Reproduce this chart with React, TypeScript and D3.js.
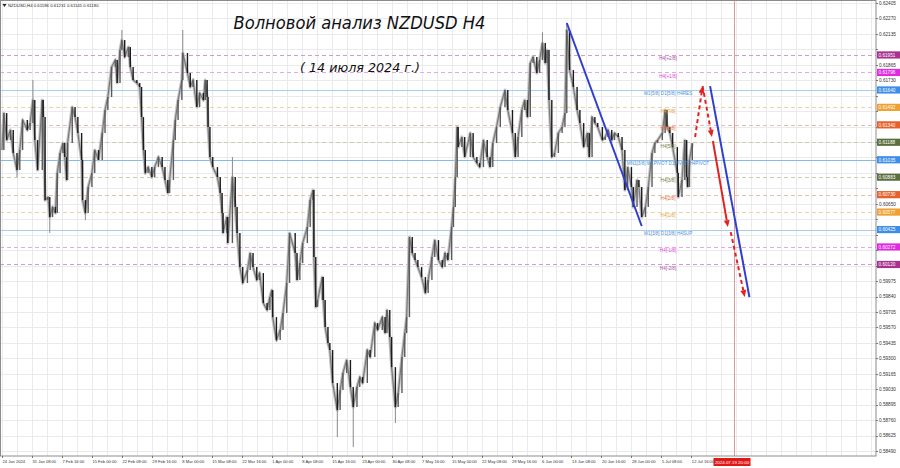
import React from "react";
import * as d3 from "d3";

const W = 900;
const H = 468;
const PLOT_R = 876;
const PLOT_B = 456;

const symbolHeader = "NZDUSD,H4  0.61186 0.61231 0.61145 0.61180";
const titleText = "Волновой анализ NZDUSD H4";
const subtitleText = "( 14 июля 2024 г.)";

const priceLabels = [
  "0.62405", "0.62270", "0.62135", "0.62000", "0.61865", "0.61730", "0.61595", "0.61460",
  "0.61325", "0.61190", "0.61055", "0.60920", "0.60785", "0.60650", "0.60515", "0.60380",
  "0.60245", "0.60110", "0.59975", "0.59840", "0.59705", "0.59570", "0.59435", "0.59300",
  "0.59165", "0.59030", "0.58895", "0.58760", "0.58625", "0.58490",
];

const timeLabels = [
  "24 Jan 2024", "31 Jan 08:00", "7 Feb 16:00", "15 Feb 00:00", "22 Feb 08:00", "29 Feb 16:00",
  "8 Mar 00:00", "15 Mar 08:00", "22 Mar 16:00", "1 Apr 00:00", "8 Apr 08:00", "15 Apr 16:00",
  "23 Apr 00:00", "30 Apr 08:00", "7 May 16:00", "15 May 00:00", "22 May 08:00", "29 May 16:00",
  "6 Jun 00:00", "13 Jun 08:00", "20 Jun 16:00", "28 Jun 00:00", "5 Jul 08:00", "12 Jul 16:00",
];
const barsPerLabel = 32;

// [bar index, close]
const closeSeries: [number, number][] = [
  [0, 0.6112], [2, 0.61443], [5, 0.61207], [9, 0.61295], [12, 0.61094], [16, 0.60945], [19, 0.6112],
  [22, 0.61382], [27, 0.61295], [30, 0.61356], [33, 0.61557], [35, 0.61207], [38, 0.60945], [43, 0.61557],
  [44, 0.61408], [46, 0.60683], [49, 0.60709], [51, 0.60534], [54, 0.60622], [57, 0.60569], [59, 0.60919],
  [62, 0.61094], [65, 0.61181], [67, 0.61059], [69, 0.60858], [70, 0.61181], [75, 0.61496], [78, 0.61408],
  [81, 0.61269], [85, 0.61033], [86, 0.60683], [89, 0.60569], [92, 0.60797], [96, 0.60919], [99, 0.6112],
  [103, 0.61033], [107, 0.61269], [110, 0.6147], [113, 0.61583], [117, 0.61845], [121, 0.61907], [123, 0.61706],
  [126, 0.61994], [128, 0.62081], [131, 0.61933], [135, 0.6202], [137, 0.61845], [140, 0.61732], [144, 0.61706],
  [147, 0.61671], [149, 0.61408], [151, 0.6112], [153, 0.60919], [156, 0.60971], [160, 0.60884], [163, 0.60971],
  [167, 0.61059], [171, 0.60971], [174, 0.60858], [177, 0.60744], [179, 0.60858], [183, 0.61207], [185, 0.61382],
  [188, 0.61557], [192, 0.61732], [193, 0.61968], [198, 0.61793], [201, 0.61671], [204, 0.61732], [208, 0.61496],
  [211, 0.61618], [215, 0.61557], [217, 0.61732], [219, 0.61583], [220, 0.61321], [222, 0.61059], [225, 0.60971],
  [230, 0.60884], [233, 0.60744], [235, 0.60569], [236, 0.60395], [240, 0.60534], [241, 0.60307], [246, 0.60884],
  [249, 0.60622], [251, 0.60395], [254, 0.60097], [257, 0.59958], [262, 0.60071], [265, 0.6022], [268, 0.60097],
  [272, 0.59984], [275, 0.60045], [279, 0.59783], [283, 0.59722], [286, 0.59835], [288, 0.59896], [289, 0.5966],
  [293, 0.59459], [297, 0.59547], [300, 0.59695], [304, 0.59958], [307, 0.60395], [313, 0.6022], [315, 0.59984],
  [318, 0.60132], [321, 0.60307], [326, 0.60447], [329, 0.60683], [332, 0.6077], [333, 0.60185], [335, 0.59748],
  [337, 0.59809], [342, 0.6001], [343, 0.59809], [345, 0.59573], [348, 0.59433], [350, 0.59372], [353, 0.59084],
  [358, 0.58848], [361, 0.59022], [364, 0.59171], [368, 0.59285], [372, 0.59049], [375, 0.58874], [379, 0.59049],
  [382, 0.59136], [385, 0.59084], [390, 0.59372], [393, 0.59311], [398, 0.59608], [401, 0.59547], [406, 0.5966],
  [409, 0.59521], [411, 0.59722], [414, 0.59486], [416, 0.59223], [420, 0.58874], [423, 0.58996], [427, 0.59311],
  [430, 0.59521], [432, 0.5966], [435, 0.6036], [438, 0.6022], [441, 0.60159], [444, 0.60097], [448, 0.6001],
  [452, 0.5987], [455, 0.59984], [459, 0.60185], [462, 0.60333], [466, 0.60159], [470, 0.60097], [473, 0.6022],
  [476, 0.60159], [480, 0.60447], [482, 0.60622], [484, 0.60884], [486, 0.61321], [487, 0.61146], [491, 0.61234],
  [494, 0.61059], [500, 0.61269], [503, 0.61059], [507, 0.61006], [510, 0.60971], [514, 0.61207], [518, 0.61059],
  [521, 0.60971], [524, 0.61181], [528, 0.61321], [532, 0.61496], [537, 0.61644], [540, 0.6147], [545, 0.61269],
  [548, 0.61059], [551, 0.61234], [555, 0.6147], [558, 0.61557], [561, 0.61408], [564, 0.6188], [567, 0.61933],
  [571, 0.61793], [574, 0.61907], [577, 0.62055], [580, 0.6188], [582, 0.61994], [584, 0.61557], [587, 0.61059],
  [590, 0.61094], [594, 0.61269], [598, 0.61321], [601, 0.61443], [603, 0.62169], [606, 0.61819], [610, 0.61671],
  [614, 0.6147], [617, 0.61356], [621, 0.61146], [625, 0.61269], [627, 0.61059], [630, 0.61408], [633, 0.61356],
  [636, 0.61321], [641, 0.61207], [644, 0.61234], [647, 0.61295], [651, 0.61207], [654, 0.61269], [658, 0.61234],
  [662, 0.6112], [665, 0.6077], [668, 0.60971], [672, 0.60797], [674, 0.60622], [678, 0.60858], [680, 0.60797],
  [683, 0.60534], [687, 0.60622], [690, 0.60797], [694, 0.61094], [697, 0.61181], [700, 0.61207], [705, 0.61269],
  [708, 0.6147], [710, 0.61321], [713, 0.61269], [716, 0.61146], [721, 0.60919], [722, 0.60709], [726, 0.60858],
  [729, 0.61207], [731, 0.60884], [732, 0.60797], [734, 0.61033], [737, 0.6118],
];

// [bar index, wick extreme]
const wickExtremes: [number, number][] = [
  [16, 0.60884], [33, 0.61732], [51, 0.60395], [89, 0.60508], [128, 0.62169], [193, 0.62169],
  [246, 0.61059], [358, 0.58612], [375, 0.58524], [420, 0.58734], [577, 0.6215], [603, 0.6223],
];

const levelPrices = [0.61951, 0.61798, 0.61645, 0.61493, 0.6134, 0.61188, 0.61035, 0.60883, 0.6073, 0.60578, 0.60425, 0.60273, 0.6012];
const levelValueTexts = ["0.61951", "0.61796", "0.61640", "0.61492", "0.61340", "0.61188", "0.61035", "0.60883", "0.60730", "0.60577", "0.60425", "0.60272", "0.60120"];
const levelNames = [
  "H4[+2/8]", "H4[+1/8]", "W1[5/8] D1[5/8] H4RES", "H4[7/8]", "H4[6/8]", "H4[5/8]",
  "MN1[3/8] W1PIVOT D1PIVOT H4PIVOT", "H4[3/8]", "H4[2/8]", "H4[1/8]", "W1[3/8] D1[3/8] H4SUP", "H4[-1/8]", "H4[-2/8]",
];
const levelKinds = ["p2", "p1", "res", "o7", "o6", "g5", "piv", "g5", "o6", "o7", "res", "p1", "p2"];

const kindStyle: Record<string, { line: string; text: string; box: string; solid: boolean }> = {
  p2: { line: "#cf9ccb", text: "#a8489e", box: "#a8328f", solid: false },
  p1: { line: "#e8a6e8", text: "#de3ede", box: "#e02ae0", solid: false },
  res: { line: "#a9cdef", text: "#4a90d8", box: "#3d8ee8", solid: true },
  o7: { line: "#ecd3a4", text: "#e3a132", box: "#f0a030", solid: false },
  o6: { line: "#ebbcaa", text: "#e26a32", box: "#e6602c", solid: false },
  g5: { line: "#cccbae", text: "#6c7a44", box: "#5c6e3e", solid: false },
  piv: { line: "#86b9ec", text: "#4a90d8", box: "#3d8ee8", solid: true },
};

// wave annotation: [bar, price]
const waveLineA: [number, number][] = [[603, 0.6223], [683, 0.60456]];
const waveLineB: [number, number][] = [[756, 0.61679], [798, 0.59835]];
const arrowsDashed: [number, number][][] = [
  [[740, 0.61234], [748, 0.61679]],
  [[748, 0.61679], [758, 0.61234]],
  [[778, 0.60403], [793, 0.59835]],
];
const arrowsSolid: [number, number][][] = [[[759, 0.61199], [775, 0.60447]]];
const markerBar = 781;
const markerText = "2024.07.19 20:00";

export default function App() {
  const x = d3.scaleLinear().domain([0, 737]).range([2, 692.3]);
  const y = d3.scaleLinear().domain([0.5849, 0.62405]).range([451, 3]);

  const hGrid = priceLabels.map((p) => y(+p));
  const vGrid = d3.range(0, 60).map((i) => x(i * (barsPerLabel / 2))).filter((v) => v < PLOT_R);

  const line = d3.line<[number, number]>().x((d) => x(d[0])).y((d) => y(d[1]));

  const redArrow = (pts: [number, number][], dashed: boolean, key: string) => {
    const [a, b] = pts;
    const x1 = x(a[0]), y1 = y(a[1]), x2 = x(b[0]), y2 = y(b[1]);
    const ang = Math.atan2(y2 - y1, x2 - x1);
    const L = 7, Wd = 3;
    const bx = x2 - L * Math.cos(ang), by = y2 - L * Math.sin(ang);
    const p1 = [bx + Wd * Math.sin(ang), by - Wd * Math.cos(ang)];
    const p2 = [bx - Wd * Math.sin(ang), by + Wd * Math.cos(ang)];
    return (
      <g key={key}>
        <line x1={x1} y1={y1} x2={bx} y2={by} stroke="#e32222" strokeWidth={2} strokeDasharray={dashed ? "4,3" : undefined} />
        <path d={`M${x2},${y2}L${p1[0]},${p1[1]}L${p2[0]},${p2[1]}Z`} fill="#e32222" />
      </g>
    );
  };

  const closeAt = (bar: number) => {
    let best = closeSeries[0];
    for (const d of closeSeries) if (Math.abs(d[0] - bar) < Math.abs(best[0] - bar)) best = d;
    return best[1];
  };

  const labelX = 668;
  const boxYs = levelPrices.map((p) => y(p));
  const visiblePriceLabels = priceLabels.filter((p) => boxYs.every((by) => Math.abs(by - y(+p)) > 7.5));

  return (
    <svg width={W} height={H} style={{ position: "fixed", left: 0, top: 0, background: "#fff" }} fontFamily="Liberation Sans, Arial, sans-serif">
      <rect x={0} y={0} width={W} height={H} fill="#fff" />
      {/* grid */}
      <g stroke="#e9e9ee" strokeWidth={1}>
        {hGrid.map((gy, i) => (
          <line key={"h" + i} x1={0} x2={PLOT_R} y1={Math.round(gy) + 0.5} y2={Math.round(gy) + 0.5} />
        ))}
        {vGrid.map((gx, i) => (
          <line key={"v" + i} x1={Math.round(gx) + 0.5} x2={Math.round(gx) + 0.5} y1={0} y2={PLOT_B} />
        ))}
      </g>
      {/* level lines */}
      {levelPrices.map((p, i) => {
        const st = kindStyle[levelKinds[i]];
        const ly = Math.round(y(p)) + 0.5;
        return (
          <line key={"lv" + i} x1={0} x2={PLOT_R} y1={ly} y2={ly} stroke={st.line} strokeWidth={1} strokeDasharray={st.solid ? undefined : "4,3"} />
        );
      })}
      {/* marker vertical */}
      <line x1={Math.round(x(markerBar)) + 0.5} x2={Math.round(x(markerBar)) + 0.5} y1={0} y2={PLOT_B} stroke="#d99a9a" strokeWidth={1} />
      {/* price series */}
      <path d={line(closeSeries) || ""} fill="none" stroke="#c4c4c4" strokeWidth={3.2} strokeLinejoin="round" />
      <path d={line(closeSeries) || ""} fill="none" stroke="#7a7a7a" strokeWidth={1.2} />
      {wickExtremes.map((d, i) => (
        <line key={"w" + i} x1={x(d[0])} x2={x(d[0])} y1={y(closeAt(d[0]))} y2={y(d[1])} stroke="#8a8a8a" strokeWidth={1} />
      ))}
      {closeSeries.map((d, i) => {
        if (i === 0) return null;
        const o = closeSeries[i - 1][1];
        const c = d[1];
        const up = c >= o;
        const xx = x(d[0]);
        return (
          <line key={"c" + i} x1={xx} x2={xx} y1={y(o)} y2={y(c)} stroke={up ? "#5a5a5a" : "#1a1a1a"} strokeWidth={1.4} />
        );
      })}
      {/* level texts */}
      {levelPrices.map((p, i) => {
        const st = kindStyle[levelKinds[i]];
        return (
          <text key={"lt" + i} x={labelX} y={y(p) + 5.3} fontSize={4.6} fill={st.text} textAnchor="middle">
            {levelNames[i]}
          </text>
        );
      })}
      {/* wave lines */}
      <path d={line(waveLineA) || ""} stroke="#2f3fcf" strokeWidth={2} fill="none" />
      <path d={line(waveLineB) || ""} stroke="#2f3fcf" strokeWidth={2} fill="none" />
      {arrowsDashed.map((a, i) => redArrow(a, true, "ad" + i))}
      {arrowsSolid.map((a, i) => redArrow(a, false, "as" + i))}
      {/* title */}
      <text x={359.5} y={29} fontSize={17} fontStyle="italic" fontFamily="DejaVu Sans" fill="#111" textAnchor="middle" textLength={252} lengthAdjust="spacingAndGlyphs">
        {titleText}
      </text>
      <text x={360} y={72} fontSize={11.5} fontStyle="italic" fontFamily="DejaVu Sans" fill="#111" textAnchor="middle" textLength={120} lengthAdjust="spacingAndGlyphs">
        {subtitleText}
      </text>
      {/* header */}
      <path d="M2.5,4 L6.5,4 L4.5,7 Z" fill="#222" />
      <text x={8} y={7} fontSize={4.3} fill="#222">{symbolHeader}</text>
      {/* frame */}
      <rect x={0.5} y={0.5} width={PLOT_R - 0.5} height={PLOT_B - 0.5} fill="none" stroke="#8c8c8c" strokeWidth={1} />
      {/* right axis */}
      <g>
        {priceLabels.map((p, i) => {
          const py = y(+p);
          return (
            <line key={"pt" + i} x1={PLOT_R} x2={PLOT_R + 2} y1={Math.round(py) + 0.5} y2={Math.round(py) + 0.5} stroke="#777" />
          );
        })}
        {visiblePriceLabels.map((p, i) => (
          <text key={"pl" + i} x={PLOT_R + 3} y={y(+p) + 1.8} fontSize={4.7} fill="#333">{p}</text>
        ))}
        {levelPrices.map((p, i) => {
          const st = kindStyle[levelKinds[i]];
          const py = y(p);
          return (
            <g key={"lb" + i}>
              <rect x={PLOT_R + 1} y={py - 3.6} width={23} height={7.2} fill={st.box} />
              <text x={PLOT_R + 2.5} y={py + 1.8} fontSize={4.7} fill="#fff">{levelValueTexts[i]}</text>
            </g>
          );
        })}
      </g>
      {/* bottom axis */}
      <g>
        {timeLabels.map((t, i) => {
          const tx = x(i * barsPerLabel);
          return (
            <g key={"tl" + i}>
              <line x1={Math.round(tx) + 0.5} x2={Math.round(tx) + 0.5} y1={PLOT_B} y2={PLOT_B + 2} stroke="#777" />
              <text x={tx + 0.5} y={PLOT_B + 7} fontSize={4.1} fill="#333">{t}</text>
            </g>
          );
        })}
        <rect x={x(markerBar) - 20} y={PLOT_B + 2} width={37} height={8} fill="#e01818" />
        <text x={x(markerBar) - 1.5} y={PLOT_B + 7.5} fontSize={4.4} fill="#fff" textAnchor="middle">{markerText}</text>
      </g>
    </svg>
  );
}
